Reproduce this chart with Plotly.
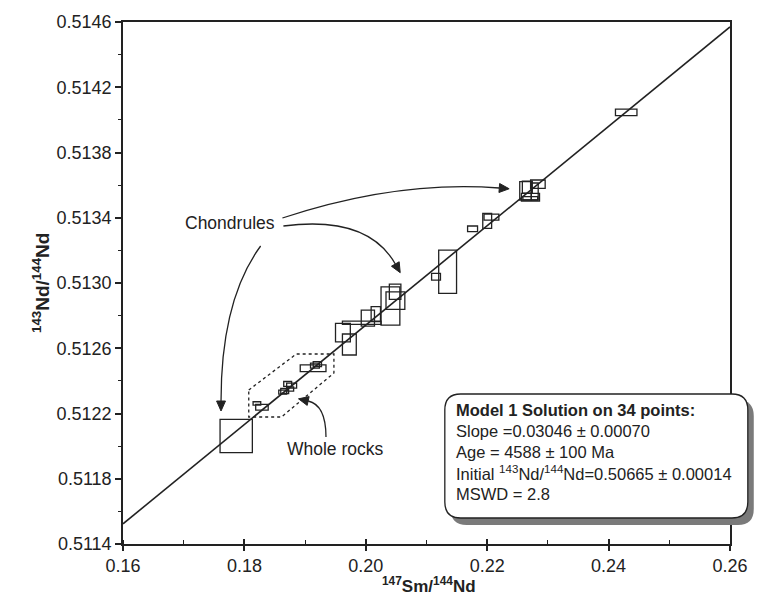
import plotly.graph_objects as go

# ---------------- data ----------------
# 147Sm/144Nd, half-width of error box
sm_nd = [0.17865, 0.18206, 0.18289, 0.18713, 0.18778, 0.18664, 0.18631, 0.18762,
         0.19132, 0.19202, 0.19162,
         0.19623, 0.19729, 0.19933, 0.20034, 0.20165, 0.20406, 0.20488, 0.20483,
         0.21157, 0.21348, 0.21759, 0.22000, 0.22070, 0.22631, 0.22713, 0.22835,
         0.22783, 0.24290, 0.22710, 0.22661]
sm_err = [0.00266, 0.00063, 0.00103, 0.00065, 0.00082, 0.00065, 0.00065, 0.00049,
          0.00212, 0.00068, 0.00073,
          0.00122, 0.00114, 0.00318, 0.00109, 0.00077, 0.00155, 0.00155, 0.00095,
          0.00073, 0.00147, 0.00082, 0.00073, 0.00122, 0.00095, 0.00149, 0.00120,
          0.00057, 0.00177, 0.00122, 0.00082]
# 143Nd/144Nd, half-height of error box
nd_nd = [0.512062, 0.512262, 0.512238, 0.512381, 0.512371, 0.512338, 0.512331, 0.512350,
         0.512477, 0.512503, 0.512494,
         0.512696, 0.512623, 0.512756, 0.512785, 0.512809, 0.512859, 0.512892, 0.512946,
         0.513038, 0.513069, 0.513332, 0.513381, 0.513404, 0.513565, 0.513526, 0.513606,
         0.513561, 0.514046, 0.513519, 0.513588]
nd_err = [0.0001020, 0.0000101, 0.0000175, 0.0000153, 0.0000153, 0.0000153, 0.0000123, 0.0000123,
          0.0000205, 0.0000153, 0.0000153,
          0.0000564, 0.0000644, 0.0000101, 0.0000490, 0.0000460, 0.0001174, 0.0000540, 0.0000469,
          0.0000205, 0.0001327, 0.0000175, 0.0000460, 0.0000184, 0.0000561, 0.0000236, 0.0000254,
          0.0000521, 0.0000205, 0.0000101, 0.0000368]

slope = 0.03046
intercept = 0.50665

x_range = [0.16, 0.26]
y_range = [0.5114, 0.5146]
x_ticks = [0.16, 0.18, 0.20, 0.22, 0.24, 0.26]
y_ticks = [0.5114, 0.5118, 0.5122, 0.5126, 0.5130, 0.5134, 0.5138, 0.5142, 0.5146]

box_lines = [
    "<b>Model 1 Solution on 34 points:</b>",
    "Slope =0.03046 ± 0.00070",
    "Age = 4588 ± 100 Ma",
    "Initial <sup>143</sup>Nd/<sup>144</sup>Nd=0.50665 ± 0.00014",
    "MSWD = 2.8",
]

# ---------------- layout geometry (pixels) ----------------
W, H = 760, 607
L, R, T, B = 123, 736, 22, 544

def px2x(px):
    return x_range[0] + (px - L) / (R - L) * (x_range[1] - x_range[0])

def px2y(py):
    return y_range[1] - (py - T) / (B - T) * (y_range[1] - y_range[0])

def pxp(px):
    return (px - L) / (R - L)

def pyp(py):
    return (B - py) / (B - T)

INK = "#222222"
FONT = "Liberation Sans, Arial, sans-serif"

fig = go.Figure()

# regression line from slope / intercept
fig.add_trace(go.Scatter(
    x=x_range,
    y=[intercept + slope * x_range[0], intercept + slope * x_range[1]],
    mode="lines", line=dict(color=INK, width=1.6), hoverinfo="skip", showlegend=False))

shapes = []
# error boxes
for xc, xe, yc, ye in zip(sm_nd, sm_err, nd_nd, nd_err):
    shapes.append(dict(type="rect", xref="x", yref="y",
                       x0=xc - xe, x1=xc + xe, y0=yc - ye, y1=yc + ye,
                       line=dict(color=INK, width=1.3), fillcolor="rgba(0,0,0,0)",
                       layer="above"))

# dotted hexagon around whole rocks (pixel outline)
hexagon = [(250, 390), (298, 354), (336, 354), (336, 373), (283, 417), (250, 417)]
path = "M " + " L ".join(f"{px2x(a)},{px2y(b)}" for a, b in hexagon) + " Z"
shapes.append(dict(type="path", xref="x", yref="y", path=path,
                   line=dict(color=INK, width=1.3, dash="dot")))

# curved arrows: start, control, end, in pixels
arrows = [
    ((262, 246), (222, 300), (222, 401)),
    ((285, 226), (370, 215), (398, 264)),
    ((284, 218), (400, 180), (503, 188)),
    ((328, 437), (328, 405), (310, 401)),
]
for (s, c, e) in arrows:
    shapes.append(dict(type="path", xref="x", yref="y",
                       path=f"M {px2x(s[0])},{px2y(s[1])} Q {px2x(c[0])},{px2y(c[1])} {px2x(e[0])},{px2y(e[1])}",
                       line=dict(color=INK, width=1.3)))
    dx, dy = e[0] - c[0], e[1] - c[1]
    n = (dx * dx + dy * dy) ** 0.5
    ux, uy = dx / n, dy / n
    tip = (e[0] + ux * 10, e[1] + uy * 10)
    b1 = (e[0] - uy * 4.5, e[1] + ux * 4.5)
    b2 = (e[0] + uy * 4.5, e[1] - ux * 4.5)
    tri = f"M {px2x(tip[0])},{px2y(tip[1])} L {px2x(b1[0])},{px2y(b1[1])} L {px2x(b2[0])},{px2y(b2[1])} Z"
    shapes.append(dict(type="path", xref="x", yref="y", path=tri,
                       line=dict(color=INK, width=1), fillcolor=INK))

# results box with shadow (rounded rectangle)
def rounded(x0, y0, x1, y1, r):
    pts = [
        f"M {pxp(x0 + r)},{pyp(y0)}",
        f"L {pxp(x1 - r)},{pyp(y0)}",
        f"Q {pxp(x1)},{pyp(y0)} {pxp(x1)},{pyp(y0 + r)}",
        f"L {pxp(x1)},{pyp(y1 - r)}",
        f"Q {pxp(x1)},{pyp(y1)} {pxp(x1 - r)},{pyp(y1)}",
        f"L {pxp(x0 + r)},{pyp(y1)}",
        f"Q {pxp(x0)},{pyp(y1)} {pxp(x0)},{pyp(y1 - r)}",
        f"L {pxp(x0)},{pyp(y0 + r)}",
        f"Q {pxp(x0)},{pyp(y0)} {pxp(x0 + r)},{pyp(y0)} Z",
    ]
    return " ".join(pts)

shapes.append(dict(type="path", xref="paper", yref="paper", path=rounded(454, 400, 760, 525, 16),
                   line=dict(width=0), fillcolor="#7a7a7a", layer="above"))
shapes.append(dict(type="path", xref="paper", yref="paper", path=rounded(448, 394, 754, 518, 16),
                   line=dict(color=INK, width=1.3), fillcolor="white", layer="above"))

annotations = []
for i, t in enumerate(box_lines):
    annotations.append(dict(xref="paper", yref="paper", x=pxp(457), y=pyp(410 + 21 * i),
                            xanchor="left", yanchor="middle", text=t, showarrow=False,
                            font=dict(family=FONT, size=16.5, color=INK)))

annotations.append(dict(xref="x", yref="y", x=px2x(231), y=px2y(223), text="Chondrules",
                        showarrow=False, font=dict(family=FONT, size=17.5, color=INK)))
annotations.append(dict(xref="x", yref="y", x=px2x(338), y=px2y(449), text="Whole rocks",
                        showarrow=False, font=dict(family=FONT, size=17.5, color=INK)))

# axis titles
annotations.append(dict(xref="paper", yref="paper", x=pxp(432), y=pyp(598),
                        text="<b><sup>147</sup>Sm/<sup>144</sup>Nd</b>", showarrow=False,
                        font=dict(family=FONT, size=17, color=INK)))
annotations.append(dict(xref="paper", yref="paper", x=pxp(26), y=pyp(283), textangle=-90,
                        text="<b><sup>143</sup>Nd/<sup>144</sup>Nd</b>", showarrow=False,
                        font=dict(family=FONT, size=19, color=INK)))

fig.update_layout(
    width=W, height=H,
    margin=dict(l=L, r=W - R, t=T, b=H - B),
    paper_bgcolor="white", plot_bgcolor="white",
    showlegend=False,
    shapes=shapes, annotations=annotations,
    xaxis=dict(range=x_range, tickvals=x_ticks, ticktext=[f"{v:.2f}" for v in x_ticks],
               showgrid=False, zeroline=False, showline=True, linecolor=INK, linewidth=1.6,
               mirror=True, ticks="outside", ticklen=5, tickwidth=1.6, tickcolor=INK,
               minor=dict(dtick=0.01, ticks="inside", ticklen=4, tickwidth=1.3, tickcolor=INK, showgrid=False),
               tickfont=dict(family=FONT, size=18, color=INK)),
    xaxis2=dict(range=x_range, overlaying="x", tickvals=x_ticks, showticklabels=False,
                showgrid=False, zeroline=False, showline=False, ticks="inside", ticklen=5,
                tickwidth=1.6, tickcolor=INK, side="bottom"),
    yaxis=dict(range=y_range, tickvals=y_ticks, ticktext=[f"{v:.4f}" for v in y_ticks],
               showgrid=False, zeroline=False, showline=True, linecolor=INK, linewidth=1.6,
               mirror=True, ticks="outside", ticklen=6, tickwidth=1.6, tickcolor=INK,
               minor=dict(dtick=0.0002, ticks="outside", ticklen=3, tickwidth=1.3, tickcolor=INK, showgrid=False),
               tickfont=dict(family=FONT, size=18, color=INK)),
)
fig.add_trace(go.Scatter(x=[None], y=[None], xaxis="x2", showlegend=False))

fig.write_html("out.html")
